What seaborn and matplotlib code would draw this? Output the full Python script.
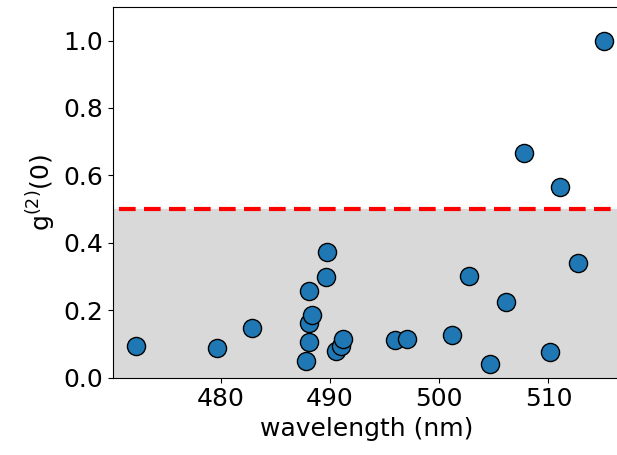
import matplotlib
matplotlib.use("Agg")
import matplotlib.pyplot as plt
import seaborn as sns
import numpy as np
import pandas as pd

# wavelength (nm) and g2(0)
wavelength = [472.3, 479.7, 482.9, 487.8, 488.1, 488.1, 488.1, 488.35, 489.6,
              489.75, 490.6, 491.0, 491.2, 496.0, 497.1, 501.15, 502.7,
              504.65, 506.1, 507.8, 510.15, 511.05, 512.7, 515.1]
g2_zero = [0.094, 0.087, 0.147, 0.050, 0.105, 0.163, 0.257, 0.186, 0.298,
           0.372, 0.079, 0.095, 0.115, 0.112, 0.115, 0.126, 0.301,
           0.041, 0.223, 0.666, 0.076, 0.565, 0.340, 1.000]
threshold = 0.5

df = pd.DataFrame({"wavelength": wavelength, "g2": g2_zero})

fig = plt.figure(figsize=(6.17, 4.55), dpi=100)
# axes run a little past the right edge of the figure, as in the reference
ax = fig.add_axes([0.183, 0.170, 0.822, 0.815])

ax.axhspan(0, threshold, color="#d9d9d9", zorder=0)
ax.axhline(threshold, xmin=0.012, color="red", ls="--", lw=3,
           dashes=(4, 2), zorder=1)

sns.scatterplot(data=df, x="wavelength", y="g2", s=170,
                color="#1f77b4", edgecolor="black", linewidth=1,
                zorder=3, ax=ax)

ax.set_xlim(470.15, 516.55)
ax.set_ylim(0, 1.1)
ax.set_xticks([480, 490, 500, 510])
ax.set_yticks([0.0, 0.2, 0.4, 0.6, 0.8, 1.0])
ax.tick_params(labelsize=18)
ax.set_xlabel("wavelength (nm)", fontsize=18)
ax.set_ylabel(r"g$^{(2)}$(0)", fontsize=18)

fig.savefig("out.png", dpi=100)
